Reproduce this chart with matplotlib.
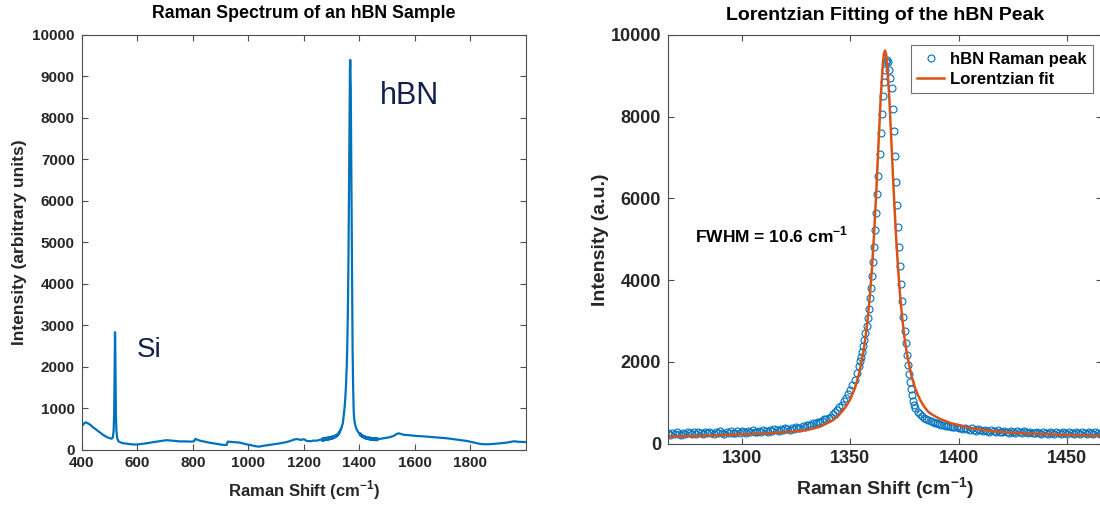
import matplotlib
matplotlib.use('Agg')
import matplotlib.pyplot as plt

plt.rcParams['font.family'] = ['Liberation Sans', 'DejaVu Sans']
plt.rcParams['font.weight'] = 'bold'
plt.rcParams['mathtext.fontset'] = 'custom'
plt.rcParams['mathtext.rm'] = 'Liberation Sans'
plt.rcParams['mathtext.bf'] = 'Liberation Sans:bold'

# ---------------- data ----------------
# broad spectrum below the hBN window
low_x = [400, 405, 410, 415, 420, 430, 440, 454, 466, 478, 490, 502, 508, 512, 515, 517, 518, 519, 520,
         521, 522, 523, 525, 528, 532, 540, 550, 562, 580, 598, 615, 634, 660, 685, 706, 730, 754, 775,
         796, 805, 809, 815, 825, 838, 860, 886, 905, 917, 922, 926, 945, 971, 990, 1007, 1022, 1037,
         1055, 1075, 1091, 1115, 1135, 1151, 1165, 1175, 1190, 1200, 1211, 1225, 1235, 1247, 1256, 1264]
low_y = [560, 600, 640, 655, 640, 600, 540, 470, 410, 350, 300, 270, 260, 290, 450, 900, 1500, 2300, 2830,
         2400, 1600, 900, 450, 270, 200, 170, 150, 140, 125, 120, 135, 150, 180, 205, 225, 210, 195, 195,
         190, 200, 255, 240, 215, 195, 165, 135, 115, 108, 110, 190, 180, 165, 130, 108, 85, 68,
         90, 110, 125, 150, 175, 205, 240, 253, 230, 250, 205, 200, 215, 213, 230, 240]

# broad spectrum above the hBN window
high_x = [1468, 1487, 1505, 1523, 1533, 1541, 1550, 1560, 1572, 1600, 1644, 1680, 1716, 1750, 1788,
          1810, 1824, 1840, 1860, 1885, 1908, 1930, 1956, 1975, 1998]
high_y = [250, 270, 290, 325, 370, 390, 375, 355, 350, 330, 310, 290, 270, 240, 205,
          170, 150, 130, 125, 135, 150, 165, 198, 185, 180]

# hBN peak window (measured points)
peak_x = [1266, 1267, 1268, 1269, 1270, 1271, 1272, 1273, 1274, 1275, 1276, 1277, 1278, 1279, 1280,
          1281, 1282, 1283, 1284, 1285, 1286, 1287, 1288, 1289, 1290, 1291, 1292, 1293, 1294, 1295,
          1296, 1297, 1298, 1299, 1300, 1301, 1302, 1303, 1304, 1305, 1306, 1307, 1308, 1309, 1310,
          1311, 1312, 1313, 1314, 1315, 1316, 1317, 1318, 1319, 1320, 1321, 1322, 1323, 1324, 1325,
          1326, 1327, 1328, 1329, 1330, 1331, 1332, 1333, 1334, 1335, 1336, 1337, 1338, 1339,
          1340, 1341, 1342, 1343, 1344, 1345, 1346, 1347, 1348, 1349, 1350, 1351, 1352, 1353, 1354,
          1354.5, 1355.0, 1355.5, 1356.0, 1356.5, 1357.0, 1357.5, 1358.0, 1358.5, 1359.0, 1359.5,
          1360.0, 1360.5, 1361.0, 1361.5, 1362.0, 1362.5, 1363.0, 1363.5, 1364.0, 1364.5, 1365.0,
          1365.5, 1366.0, 1366.5, 1367.0, 1367.5, 1368.0, 1368.5, 1369.0, 1369.5, 1370.0, 1370.5,
          1371.0, 1371.5, 1372.0, 1372.5, 1373.0, 1373.5, 1374.0, 1374.5, 1375.0, 1375.5, 1376.0,
          1376.5, 1377.0, 1377.5, 1378.0, 1378.5, 1379.0, 1379.5, 1380.0,
          1381, 1382, 1383, 1384, 1385, 1386, 1387, 1388, 1389, 1390, 1391, 1392, 1393, 1394, 1395,
          1396, 1397, 1398, 1399, 1400,
          1401, 1402, 1403, 1404, 1405, 1406, 1407, 1408, 1409, 1410, 1411, 1412, 1413, 1414, 1415,
          1416, 1417, 1418, 1419, 1420, 1421, 1422, 1423, 1424, 1425, 1426, 1427, 1428, 1429, 1430,
          1431, 1432, 1433, 1434, 1435, 1436, 1437, 1438, 1439, 1440, 1441, 1442, 1443, 1444, 1445,
          1446, 1447, 1448, 1449, 1450, 1451, 1452, 1453, 1454, 1455, 1456, 1457, 1458, 1459, 1460,
          1461, 1462, 1463, 1464, 1465, 1466]
peak_y = [250, 205, 265, 230, 275, 240, 215, 260, 235, 280, 245, 225, 270, 240, 285,
          250, 230, 275, 245, 290, 255, 235, 280, 250, 295, 260, 240, 285, 255, 300,
          265, 250, 295, 265, 310, 275, 260, 305, 275, 320, 285, 270, 315, 290, 330,
          300, 285, 330, 305, 345, 320, 305, 350, 330, 370, 345, 335, 380, 365, 405,
          385, 380, 425, 415, 455, 445, 450, 490, 490, 530, 530, 545, 590, 600,
          620, 660, 720, 770, 830, 890, 950, 1030, 1110, 1210, 1320, 1440, 1560, 1720, 1900,
          2010, 2120, 2240, 2380, 2530, 2700, 2880, 3080, 3300, 3550, 3810,
          4100, 4440, 4800, 5220, 5650, 6100, 6550, 7080, 7600, 8070, 8500,
          8860, 9150, 9330, 9400, 9340, 9150, 8950, 8700, 8200, 7650, 7050,
          6400, 5850, 5300, 4800, 4350, 3900, 3480, 3100, 2750, 2450, 2170,
          1920, 1700, 1500, 1330, 1180, 1050, 950, 860,
          770, 710, 665, 625, 595, 570, 545, 525, 505, 490, 475, 460, 450, 440, 430,
          420, 410, 400, 395, 385,
          380, 345, 390, 350, 330, 370, 335, 315, 355, 320, 300, 340, 310, 290, 330,
          300, 280, 320, 290, 270, 315, 285, 265, 305, 280, 260, 300, 275, 255, 295,
          270, 250, 290, 265, 245, 285, 260, 240, 285, 255, 235, 280, 255, 235, 280,
          250, 230, 275, 250, 230, 275, 250, 225, 270, 245, 225, 270, 245, 225, 270,
          245, 225, 270, 245, 225, 265]

# Lorentzian fit curve
fit_x = [1266, 1276, 1286, 1296, 1306, 1316, 1326, 1331, 1336, 1341, 1344, 1346, 1348, 1350, 1352, 1354,
         1356, 1357, 1358, 1359, 1360, 1361, 1362, 1363, 1364, 1365, 1365.5, 1366, 1366.5, 1367, 1368,
         1369, 1370, 1371, 1372, 1373, 1374, 1375, 1376, 1378, 1380, 1382, 1384, 1386, 1388, 1391, 1396,
         1401, 1406, 1416, 1426, 1436, 1446, 1456, 1466]
fit_y = [165, 180, 195, 215, 235, 262, 305, 340, 410, 540, 650, 771, 906, 1086, 1337, 1696,
         2227, 2588, 3039, 3600, 4301, 5161, 6183, 7322, 8440, 9295, 9536, 9620, 9536, 9295, 8440,
         7322, 6183, 5161, 4301, 3600, 3039, 2588, 2227, 1696, 1337, 1086, 906, 771, 700, 610, 505,
         430, 370, 300, 260, 235, 215, 200, 188]

left_xticks = [400, 600, 800, 1000, 1200, 1400, 1600, 1800]
left_yticks = [0, 1000, 2000, 3000, 4000, 5000, 6000, 7000, 8000, 9000, 10000]
right_xticks = [1300, 1350, 1400, 1450]
right_yticks = [0, 2000, 4000, 6000, 8000, 10000]

fwhm_text = r'FWHM = 10.6 cm$^{\mathbf{-1}}$'

# ---------------- styling ----------------
BLUE = '#0072BD'
ORANGE = '#D95319'
AXC = '#262626'
SPINE = '#4d4d4d'
NAVY = '#101f4e'

W, H = 1100, 507
fig = plt.figure(figsize=(W / 100, H / 100), dpi=100)


def px_axes(x0, x1, ytop, ybot):
    return fig.add_axes([x0 / W, (H - ybot) / H, (x1 - x0) / W, (ybot - ytop) / H])


def style(ax, tick_fs):
    for s in ax.spines.values():
        s.set_color(SPINE)
        s.set_linewidth(0.8)
    ax.tick_params(direction='in', length=4, width=0.8, color=SPINE,
                   top=True, right=True, labelsize=tick_fs, labelcolor=AXC, pad=5)
    for lab in ax.get_xticklabels() + ax.get_yticklabels():
        lab.set_fontweight('bold')


# ---------------- left panel ----------------
ax1 = px_axes(81.7, 525.7, 35, 449.5)
full_x = low_x + peak_x + high_x
full_y = low_y + peak_y + high_y
ax1.plot(full_x, full_y, color=BLUE, lw=1.6)
ax1.set_xlim(400, 1999)
ax1.set_ylim(0, 10000)
ax1.set_xticks(left_xticks)
ax1.set_yticks(left_yticks)
style(ax1, 11)
ax1.set_title('Raman Spectrum of an hBN Sample', fontsize=12.8, fontweight='bold', pad=12)
ax1.set_xlabel(r'Raman Shift (cm$^{\mathbf{-1}}$)', fontsize=12, fontweight='bold', color=AXC, labelpad=6)
ax1.set_ylabel('Intensity (arbitrary units)', fontsize=12.5, fontweight='bold', color=AXC, labelpad=4)
ax1.text(599, 2232, 'Si', fontsize=20, fontweight='normal', color=NAVY, ha='left', va='baseline')
ax1.text(1475, 8335, 'hBN', fontsize=22, fontweight='normal', color=NAVY, ha='left', va='baseline')

# ---------------- right panel ----------------
ax2 = px_axes(668, 1102, 35, 443.5)
ax2.plot(peak_x, peak_y, linestyle='none', marker='o', markersize=5, markerfacecolor='none',
         markeredgecolor=BLUE, markeredgewidth=0.8, label='hBN Raman peak')
ax2.plot(fit_x, fit_y, color=ORANGE, lw=1.8, label='Lorentzian fit')
ax2.set_xlim(1266, 1466)
ax2.set_ylim(0, 10000)
ax2.set_xticks(right_xticks)
ax2.set_yticks(right_yticks)
style(ax2, 13)
ax2.set_title('Lorentzian Fitting of the hBN Peak', fontsize=14, fontweight='bold', pad=11)
ax2.set_xlabel(r'Raman Shift (cm$^{\mathbf{-1}}$)', fontsize=14, fontweight='bold', color=AXC, labelpad=6)
ax2.set_ylabel('Intensity (a.u.)', fontsize=14, fontweight='bold', color=AXC, labelpad=1)
ax2.text(1278.5, 5100, fwhm_text, fontsize=12.5, fontweight='bold', color='black',
         ha='left', va='center')
leg = ax2.legend(loc='upper right', bbox_to_anchor=(1093 / W, 1 - 45 / H),
                 bbox_transform=fig.transFigure, borderaxespad=0, frameon=True, fancybox=False,
                 prop={'weight': 'bold', 'size': 12}, handlelength=1.6, handletextpad=0.35,
                 labelspacing=0.3, borderpad=0.4)
leg.get_frame().set_edgecolor(SPINE)
leg.get_frame().set_linewidth(0.8)

fig.savefig('out.png', dpi=100)
